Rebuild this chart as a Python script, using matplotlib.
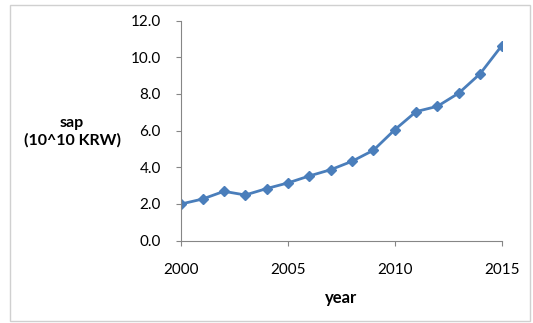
import matplotlib
matplotlib.use("Agg")
import matplotlib.pyplot as plt
from matplotlib.patches import Rectangle

years = [2000, 2001, 2002, 2003, 2004, 2005, 2006, 2007,
         2008, 2009, 2010, 2011, 2012, 2013, 2014, 2015]
sap = [2.00, 2.27, 2.69, 2.49, 2.84, 3.15, 3.53, 3.87,
       4.33, 4.93, 6.05, 7.04, 7.33, 8.05, 9.11, 10.62]
x_ticks = [2000, 2005, 2010, 2015]
y_ticks = [0, 2, 4, 6, 8, 10, 12]

plt.rcParams['font.family'] = ['Lato', 'DejaVu Sans']

fig = plt.figure(figsize=(5.33, 3.23), dpi=100)
fig.patch.set_facecolor('white')

# chart-area border
fig.patches.append(Rectangle((10 / 533, 2 / 323), 520 / 533, 316 / 323,
                             transform=fig.transFigure, fill=False,
                             edgecolor='#d0d0d0', linewidth=1.0))

ax = fig.add_axes([0.340, 0.255, 0.601, 0.681])
ax.plot(years, sap, color='#4a7ebb', linewidth=2.0, marker='D',
        markersize=5, markerfacecolor='#4a7ebb', markeredgecolor='#4a7ebb')

ax.set_xlim(2000, 2015)
ax.set_ylim(0, 12)
ax.set_xticks(x_ticks)
ax.set_yticks(y_ticks)
ax.set_yticklabels([f"{v:.1f}" for v in y_ticks])

for s in ['top', 'right']:
    ax.spines[s].set_visible(False)
for s in ['left', 'bottom']:
    ax.spines[s].set_color('#868686')
    ax.spines[s].set_linewidth(0.8)

ax.tick_params(axis='both', colors='#868686', labelcolor='black',
               labelsize=11, length=3.6, width=0.8, direction='out')
ax.tick_params(axis='x', pad=12.5)
ax.tick_params(axis='y', pad=11)

fig.text(72 / 533, 1 - 132 / 323, "sap\n(10^10 KRW)", ha='center', va='center',
         fontsize=11.5, fontweight='bold', linespacing=1.25)
fig.text(341 / 533, 1 - 298 / 323, "year", ha='center', va='center',
         fontsize=12, fontweight='bold')

fig.savefig("out.png", dpi=100, facecolor='white')
